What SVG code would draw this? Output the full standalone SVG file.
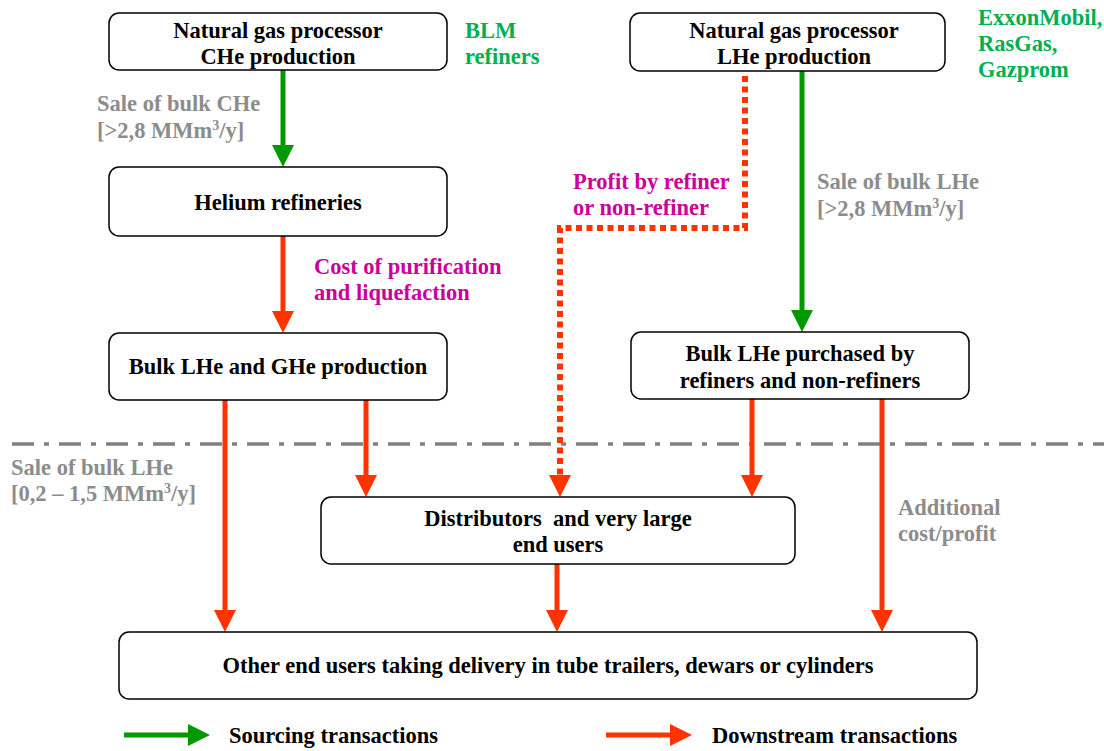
<svg xmlns="http://www.w3.org/2000/svg" width="1104" height="751" viewBox="0 0 1104 751">
<style>
.box{fill:#fff;stroke:#000;stroke-width:1.5}
.t{font-family:"Liberation Serif","Times New Roman",serif;font-weight:bold;font-size:22.5px;fill:#000}
.c{text-anchor:middle}
.g{fill:#00b050}
.gr{fill:#8c8c8c}
.m{fill:#cc0099}
.ga{stroke:#009900;stroke-width:5;fill:none}
.ra{stroke:#ff3300;stroke-width:5;fill:none}
.rd{stroke:#ff3300;stroke-width:6;fill:none;stroke-dasharray:6 4.5}
</style>
<defs>
<marker id="ag" markerUnits="userSpaceOnUse" markerWidth="24" markerHeight="24" viewBox="0 0 24 24" refX="2" refY="11" orient="auto"><path d="M0,0 L22,11 L0,22 z" fill="#009900"/></marker>
<marker id="ar" markerUnits="userSpaceOnUse" markerWidth="24" markerHeight="24" viewBox="0 0 24 24" refX="2" refY="11" orient="auto"><path d="M0,0 L22,11 L0,22 z" fill="#ff3300"/></marker>
</defs>

<line x1="12" y1="444" x2="1104" y2="444" stroke="#808080" stroke-width="3.5" stroke-dasharray="22 10 5 10"/>

<g id="connectors">
<line class="ga" x1="283" y1="70" x2="283" y2="147" marker-end="url(#ag)"/>
<line class="ra" x1="283" y1="236" x2="283" y2="313" marker-end="url(#ar)"/>
<line class="ga" x1="802" y1="71" x2="802" y2="312" marker-end="url(#ag)"/>
<path class="rd" d="M745,76 V228 H560 V477" marker-end="url(#ar)"/>
<line class="ra" x1="225" y1="400" x2="225" y2="612" marker-end="url(#ar)"/>
<line class="ra" x1="366" y1="400" x2="366" y2="477" marker-end="url(#ar)"/>
<line class="ra" x1="752" y1="399" x2="752" y2="477" marker-end="url(#ar)"/>
<line class="ra" x1="882" y1="399" x2="882" y2="612" marker-end="url(#ar)"/>
<line class="ra" x1="557" y1="564" x2="557" y2="612" marker-end="url(#ar)"/>
</g>

<g id="n1"><rect class="box" x="109" y="13" width="338" height="57" rx="10"/>
<text class="t c" x="278" y="38">Natural gas processor</text>
<text class="t c" x="278" y="64">CHe production</text></g>

<g id="n2"><rect class="box" x="630" y="13" width="315" height="58" rx="10"/>
<text class="t c" x="794" y="38">Natural gas processor</text>
<text class="t c" x="794" y="64">LHe production</text></g>

<g id="n3"><rect class="box" x="109" y="167" width="338" height="69" rx="10"/>
<text class="t c" x="278" y="210">Helium refineries</text></g>

<g id="n4"><rect class="box" x="109" y="333" width="338" height="67" rx="10"/>
<text class="t c" x="278" y="374">Bulk LHe and GHe production</text></g>

<g id="n5"><rect class="box" x="631" y="332" width="338" height="67" rx="10"/>
<text class="t c" x="800" y="361">Bulk LHe purchased by</text>
<text class="t c" x="800" y="388">refiners and non-refiners</text></g>

<g id="n6"><rect class="box" x="321" y="497" width="474" height="67" rx="10"/>
<text class="t c" x="558" y="526" xml:space="preserve">Distributors  and very large</text>
<text class="t c" x="558" y="552">end users</text></g>

<g id="n7"><rect class="box" x="119" y="632" width="858" height="67" rx="10"/>
<text class="t c" x="548" y="673">Other end users taking delivery in tube trailers, dewars or cylinders</text></g>

<g id="labels">
<text class="t g" x="465" y="38">BLM</text>
<text class="t g" x="465" y="64">refiners</text>
<text class="t g" x="978" y="25">ExxonMobil,</text>
<text class="t g" x="978" y="51">RasGas,</text>
<text class="t g" x="978" y="77">Gazprom</text>
<text class="t gr" x="97" y="111">Sale of bulk CHe</text>
<text class="t gr" x="97" y="138">[&gt;2,8 MMm<tspan font-size="14" dy="-8">3</tspan><tspan dy="8">/y]</tspan></text>
<text class="t m" x="314" y="274">Cost of purification</text>
<text class="t m" x="314" y="300">and liquefaction</text>
<text class="t m" x="573" y="189">Profit by refiner</text>
<text class="t m" x="573" y="215">or non-refiner</text>
<text class="t gr" x="817" y="189">Sale of bulk LHe</text>
<text class="t gr" x="817" y="216">[&gt;2,8 MMm<tspan font-size="14" dy="-8">3</tspan><tspan dy="8">/y]</tspan></text>
<text class="t gr" x="11" y="475">Sale of bulk LHe</text>
<text class="t gr" x="11" y="501">[0,2 – 1,5 MMm<tspan font-size="14" dy="-8">3</tspan><tspan dy="8">/y]</tspan></text>
<text class="t gr" x="898" y="515">Additional</text>
<text class="t gr" x="898" y="541">cost/profit</text>
</g>

<g id="legend">
<line class="ga" x1="124" y1="735" x2="190" y2="735" marker-end="url(#ag)"/>
<text class="t" x="229" y="743">Sourcing transactions</text>
<line class="ra" x1="606" y1="735" x2="672" y2="735" marker-end="url(#ar)"/>
<text class="t" x="712" y="743">Downstream transactions</text>
</g>
</svg>
